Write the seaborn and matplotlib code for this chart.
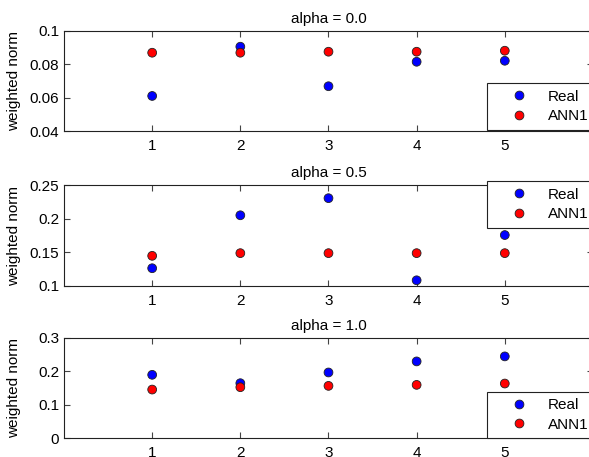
import pandas as pd
import seaborn as sns
import matplotlib.pyplot as plt

# 数値は図から読み取り
runs = [1, 2, 3, 4, 5]
titles = ['alpha = 0.0', 'alpha = 0.5', 'alpha = 1.0']

real_a00 = [0.0612, 0.0906, 0.0670, 0.0816, 0.0822]
ann1_a00 = [0.0870, 0.0870, 0.0876, 0.0876, 0.0882]
real_a05 = [0.1265, 0.2055, 0.2310, 0.1085, 0.1760]
ann1_a05 = [0.1450, 0.1490, 0.1490, 0.1490, 0.1490]
real_a10 = [0.190, 0.165, 0.197, 0.230, 0.245]
ann1_a10 = [0.146, 0.153, 0.157, 0.160, 0.164]

ylims = [(0.04, 0.1), (0.1, 0.25), (0, 0.3)]
yticks = [[0.04, 0.06, 0.08, 0.1], [0.1, 0.15, 0.2, 0.25], [0, 0.1, 0.2, 0.3]]
yticklabels = [['0.04', '0.06', '0.08', '0.1'],
               ['0.1', '0.15', '0.2', '0.25'],
               ['0', '0.1', '0.2', '0.3']]

sns.set_style('white')
plt.rcParams['font.family'] = ['Liberation Sans', 'DejaVu Sans']
plt.rcParams['font.size'] = 11
plt.rcParams['text.color'] = 'black'
plt.rcParams['axes.labelcolor'] = 'black'
plt.rcParams['xtick.color'] = 'black'
plt.rcParams['ytick.color'] = 'black'

fig = plt.figure(figsize=(5.89, 4.57), dpi=100)

bottoms = [0.7123, 0.3742, 0.0405]
legend_y = [0.483, 1.045, 0.466]
series = [(real_a00, ann1_a00), (real_a05, ann1_a05), (real_a10, ann1_a10)]

for i, (real, ann1) in enumerate(series):
    ax = fig.add_axes([0.1087, bottoms[i], 0.898, 0.22])
    df = pd.DataFrame({
        'run': runs + runs,
        'value': real + ann1,
        'model': ['Real'] * 5 + ['ANN1'] * 5,
    })
    sns.scatterplot(data=df, x='run', y='value', hue='model',
                    palette={'Real': '#0000ff', 'ANN1': '#ff0000'},
                    s=40, edgecolor='#222222', linewidth=0.6, ax=ax)

    ax.set_xlim(0, 6)
    ax.set_ylim(*ylims[i])
    ax.set_xticks(runs)
    ax.set_xticklabels([str(r) for r in runs])
    ax.set_yticks(yticks[i])
    ax.set_yticklabels(yticklabels[i])
    ax.set_xlabel('')
    ax.set_ylabel('weighted norm', fontsize=11)
    ax.yaxis.set_label_coords(-0.0813, 0.5)
    ax.set_title(titles[i], fontsize=11, pad=6)

    for sp in ax.spines.values():
        sp.set_visible(True)
        sp.set_color('#222222')
        sp.set_linewidth(0.8)
    ax.tick_params(direction='in', bottom=True, left=True, top=True, right=True,
                   length=4, width=0.8, color='#444444', labelsize=11)
    ax.tick_params(axis='x', pad=5.5)
    ax.tick_params(axis='y', pad=3.6)

    leg = ax.legend(loc='upper left', bbox_to_anchor=(0.8, legend_y[i]),
                    borderaxespad=0, frameon=True, fancybox=False,
                    framealpha=1, edgecolor='#222222', handlelength=3.3,
                    handletextpad=0.24, labelspacing=0.35, borderpad=0.44,
                    fontsize=11)
    leg.get_frame().set_linewidth(0.8)
    leg.set_clip_on(False)

plt.savefig('out.png', dpi=100)
